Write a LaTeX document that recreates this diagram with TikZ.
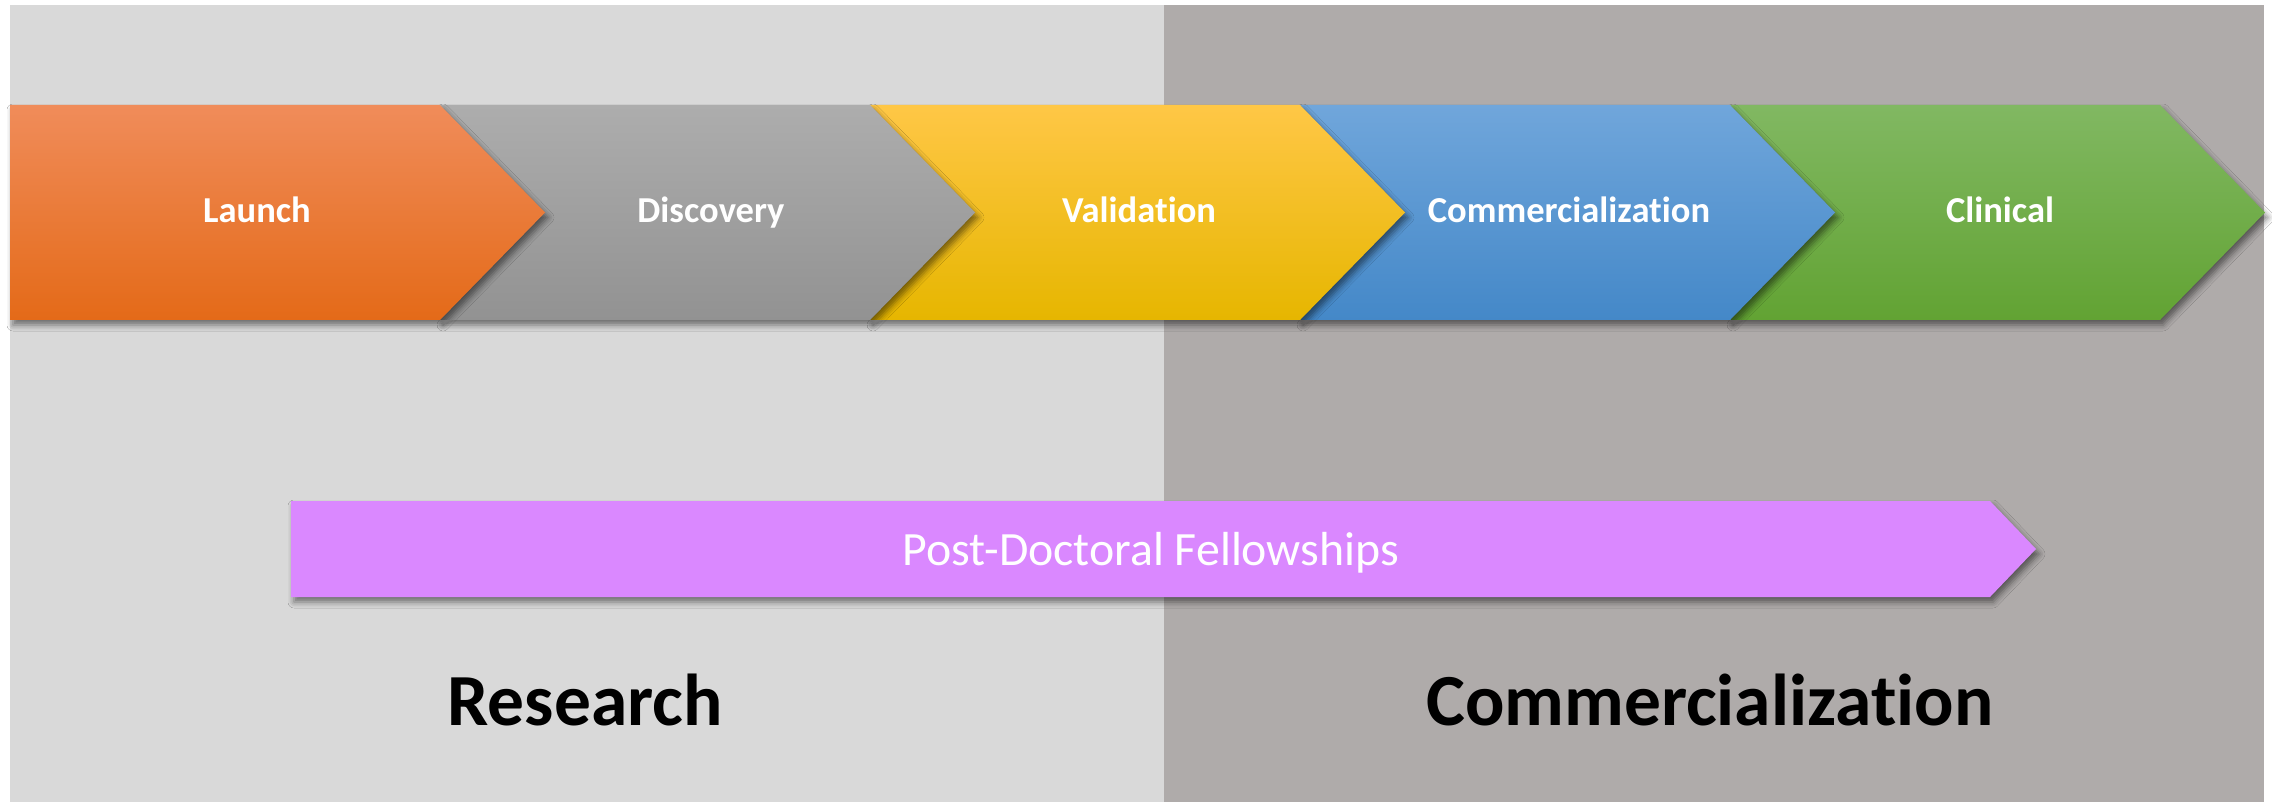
\documentclass[tikz,border=0pt]{standalone}
\usepackage{fontspec}
\setmainfont{Carlito}[Ligatures=NoCommon]
\usepackage{tikz}
\usetikzlibrary{shadows.blur}

\definecolor{panelleft}{HTML}{D9D9D9}
\definecolor{panelright}{HTML}{AFABAA}
\definecolor{launchtop}{HTML}{F08C5A}
\definecolor{launchmid}{HTML}{F58030}
\definecolor{launchbot}{HTML}{E46A18}
\definecolor{discovtop}{HTML}{ADADAD}
\definecolor{discovmid}{HTML}{A1A1A1}
\definecolor{discovbot}{HTML}{929292}
\definecolor{validtop}{HTML}{FFC746}
\definecolor{validmid}{HTML}{FFC000}
\definecolor{validbot}{HTML}{E6B600}
\definecolor{commerctop}{HTML}{70A6DB}
\definecolor{commercmid}{HTML}{5B9BD5}
\definecolor{commercbot}{HTML}{4488C8}
\definecolor{clinicaltop}{HTML}{81B862}
\definecolor{clinicalmid}{HTML}{70AD47}
\definecolor{clinicalbot}{HTML}{62A333}
\definecolor{fellowfill}{HTML}{DA88FF}

\tikzset{
  chevron/.style={blur shadow={shadow xshift=0.3mm, shadow yshift=-0.5mm, shadow blur radius=0.6mm, shadow opacity=50}},
  chevlabel/.style={anchor=base, text=white, font=\fontsize{10.4}{12}\selectfont\bfseries, inner sep=0pt},
  fellowlabel/.style={anchor=base, text=white, font=\fontsize{13.6}{16}\selectfont, inner sep=0pt},
  phaselabel/.style={anchor=base, text=black, font=\fontsize{20.9}{24}\selectfont\bfseries, inner sep=0pt}
}

\begin{document}
\begin{tikzpicture}[x=0.1mm, y=-0.1mm]

\newcommand{\chevx}{10}
\newcommand{\chevstep}{430}
\newcommand{\chevtop}{105}
\newcommand{\chevhalf}{107.5}
\newcommand{\chevtip}{105}

\useasboundingbox (0,0) rectangle (2272,802);
\fill [white] (0,0) rectangle (2272,802);

% Research / Commercialization panels
\fill [panelleft] (10,5) rectangle (1164,802);
\fill [panelright] (1164,5) rectangle (2264,802);

% Chevrons, right to left so the shadows fall on the next one
\foreach \i/\notch/\col in {4/105/clinical, 3/105/commerc, 2/105/valid, 1/105/discov, 0/0/launch}
{
\path [chevron, top color=\col top, middle color=\col mid, bottom color=\col bot] ({\chevx+\i*\chevstep},\chevtop) -- ++(\chevstep,0) -- ++(\chevtip,\chevhalf) -- ++(-\chevtip,\chevhalf) -- ++(-\chevstep,0) -- ++(\notch,-\chevhalf) -- cycle;
}

\foreach \x/\name/\txt in {257/launch/Launch, 711/discovery/Discovery, 1139/validation/Validation, 1569/commerc/Commercialization, 2000/clinical/Clinical}
{
\node [chevlabel] (\name) at (\x,223) {\txt};
}

% Fellowship bar
\path [chevron, fill=fellowfill] (291,501) -- (1990,501) -- (2036,549) -- (1990,597) -- (291,597) -- cycle;
\node [fellowlabel] (fellow) at (1151,565) {Post-Doctoral Fellowships};

\node [phaselabel] (research) at (585,725) {Research};
\node [phaselabel] (commerce) at (1710,725) {Commercialization};

\end{tikzpicture}
\end{document}
